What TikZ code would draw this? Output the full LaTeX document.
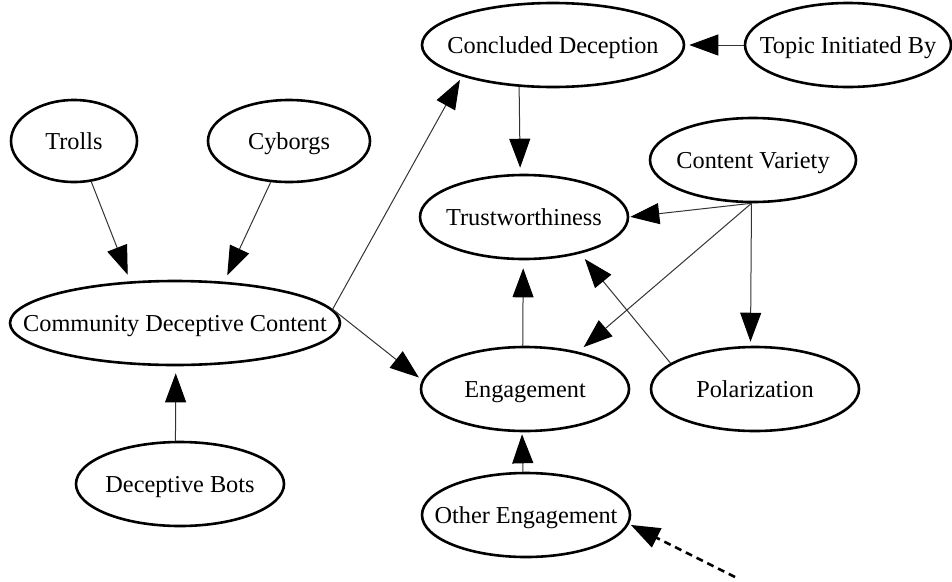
\documentclass[tikz,border=0pt]{standalone}
\usepackage{fontspec}
\setmainfont{Liberation Serif}
\usetikzlibrary{shapes.geometric,arrows.meta}

% ellipse of fixed size; the label is set in a zero-width box so it never widens it
\newcommand{\lbl}[1]{\makebox[0pt][c]{#1}}

\tikzset{
  state/.style={ellipse, draw, line width=2.6pt, inner sep=0pt,
    text height=16.5pt, text depth=0pt,
    font=\fontsize{24.3}{28}\selectfont, text=black},
  link/.style={line width=1pt, black!80,
    -{Triangle[length=29pt,width=21pt,fill=black,color=black]}, shorten >=4pt},
  hint/.style={link, line width=2.6pt, dash pattern=on 7pt off 5pt, black}
}

\begin{document}
\begin{tikzpicture}[x=1pt,y=-1pt]
\useasboundingbox (0,0) rectangle (952,581);

% nodes (centre, then full width and height)
\node[state, minimum width=262, minimum height=84] (concl)   at (553,45)  {\lbl{Concluded Deception}};
\node[state, minimum width=206, minimum height=84] (topic)   at (848,45)  {\lbl{Topic Initiated By}};
\node[state, minimum width=126, minimum height=82] (trolls)  at (74,141)  {\lbl{Trolls}};
\node[state, minimum width=162, minimum height=82] (cyborgs) at (289,141) {\lbl{Cyborgs}};
\node[state, minimum width=206, minimum height=84] (cv)      at (753,160) {\lbl{Content Variety}};
\node[state, minimum width=208, minimum height=84] (trust)   at (524,217) {\lbl{Trustworthiness}};
\node[state, minimum width=330, minimum height=84] (cdc)     at (175,323) {\lbl{Community Deceptive Content}};
\node[state, minimum width=208, minimum height=84] (eng)     at (525,389) {\lbl{Engagement}};
\node[state, minimum width=208, minimum height=84] (pol)     at (755,389) {\lbl{Polarization}};
\node[state, minimum width=208, minimum height=84] (db)      at (180,484) {\lbl{Deceptive Bots}};
\node[state, minimum width=208, minimum height=84] (oe)      at (526,515) {\lbl{Other Engagement}};

\coordinate (outside) at (735,577);

% connectors
\draw[link, shorten >=7pt] (trolls.-67)  -- (cdc.137);
\draw[link, shorten >=7pt] (cyborgs.246) -- (cdc.40);
\draw[link, shorten >=7pt] (db.96)       -- (cdc.-89);
\draw[link] (cdc.5)      -- (concl.199);
\draw[link] (cdc.5)      -- (eng.175);
\draw[link] (topic.west) -- (concl.east);
\draw[link, shorten >=6pt] (concl.231)  -- (trust.95);
\draw[link, shorten >=1pt] (cv.268)     -- (trust.east);
\draw[link, shorten >=7pt] (cv.268)     -- (eng.35);
\draw[link] (cv.268)     -- (pol.96);
\draw[link, shorten >=7pt] (pol.163)    -- (trust.-33);
\draw[link, shorten >=8pt] (eng.93.5)   -- (trust.-91);
\draw[link, shorten >=2pt] (oe.94)      -- (eng.-94);
\draw[hint, shorten >=2pt] (outside)    -- (oe.-5);
\end{tikzpicture}
\end{document}
